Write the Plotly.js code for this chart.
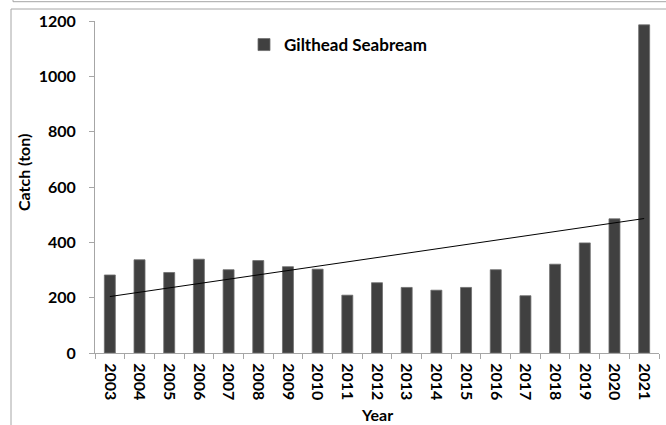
<!DOCTYPE html>
<html>
<head>
<meta charset="utf-8">
<script src="https://cdn.plot.ly/plotly-3.0.1.min.js"></script>
<style>html,body{margin:0;padding:0;background:#fff;}#chart{width:666px;height:425px;}</style>
</head>
<body>
<div id="chart"></div>
<script>
// ---- data ----
const years = ['2003','2004','2005','2006','2007','2008','2009','2010','2011','2012',
               '2013','2014','2015','2016','2017','2018','2019','2020','2021'];
const catchTon = [282,337,291,339,301,334,312,303,209,254,237,227,237,301,207,321,398,485,1186];
const seriesName = 'Gilthead Seabream';
// linear trendline end points as drawn in the reference
const trendYears = ['2003','2021'];
const trendValues = [204, 486];
const yTicks = [0,200,400,600,800,1000,1200];

// ---- layout geometry ----
const W = 666, H = 425;
const M = {l:95, r:7, t:21, b:72};
const pw = W - M.l - M.r, ph = H - M.t - M.b;
const px = x => (x - M.l) / pw;
const py = y => (H - M.b - y) / ph;
const frame = '#a6a6a6';
const FONT = 'Lato, "Open Sans", sans-serif';

const traces = [
  {
    type:'bar', x: years, y: catchTon, name: seriesName,
    marker:{color:'#404040', line:{color:'#6e6e6e', width:0.8}},
    showlegend:true
  },
  {
    type:'scatter', mode:'lines', x: trendYears, y: trendValues,
    line:{color:'#000', width:1}, showlegend:false, hoverinfo:'skip'
  }
];

const layout = {
  width:W, height:H, margin:M,
  paper_bgcolor:'#fff', plot_bgcolor:'#fff',
  font:{family:FONT, color:'#000', size:16, weight:'bold'},
  bargap:0.63,
  showlegend:true,
  legend:{x:px(244), y:py(27), xanchor:'left', yanchor:'top',
          font:{family:FONT, size:17, weight:'bold', color:'#000'},
          bgcolor:'rgba(0,0,0,0)', itemwidth:30},
  xaxis:{
    type:'category', categoryorder:'array', categoryarray: years,
    tickangle:90, ticks:'outside', ticklen:5, tickcolor:frame, tickson:'boundaries',
    showline:true, linecolor:frame, linewidth:1, showgrid:false, zeroline:false,
    tickfont:{family:FONT, size:16, weight:'bold'}, ticklabelstandoff:6,
    title:{text:''}
  },
  yaxis:{
    range:[0,1200], tickvals:yTicks, ticks:'outside', ticklen:5, tickcolor:frame,
    showline:true, linecolor:frame, linewidth:1, showgrid:false, zeroline:false,
    tickfont:{family:FONT, size:16, weight:'bold'}, ticklabelstandoff:10,
    title:{text:''}
  },
  annotations:[
    {text:'Year', xref:'paper', yref:'paper', x:px(377), y:py(414), xanchor:'center', yanchor:'middle',
     showarrow:false, font:{family:FONT, size:16, weight:'bold'}},
    {text:'Catch (ton)', xref:'paper', yref:'paper', x:px(23), y:py(173), xanchor:'center', yanchor:'middle',
     textangle:-90, showarrow:false, font:{family:FONT, size:16, weight:'bold'}}
  ],
  shapes:[
    {type:'line', xref:'paper', yref:'paper', x0:px(13), x1:px(667), y0:py(1.7), y1:py(1.7), line:{color:frame, width:1}},
    {type:'line', xref:'paper', yref:'paper', x0:px(13), x1:px(13), y0:py(-1), y1:py(1.7), line:{color:frame, width:1}},
    {type:'line', xref:'paper', yref:'paper', x0:px(11), x1:px(667), y0:py(9), y1:py(9), line:{color:frame, width:1}},
    {type:'line', xref:'paper', yref:'paper', x0:px(11), x1:px(11), y0:py(9), y1:py(426), line:{color:frame, width:1}}
  ]
};

Plotly.newPlot('chart', traces, layout, {displayModeBar:false, staticPlot:true});
</script>
</body>
</html>
